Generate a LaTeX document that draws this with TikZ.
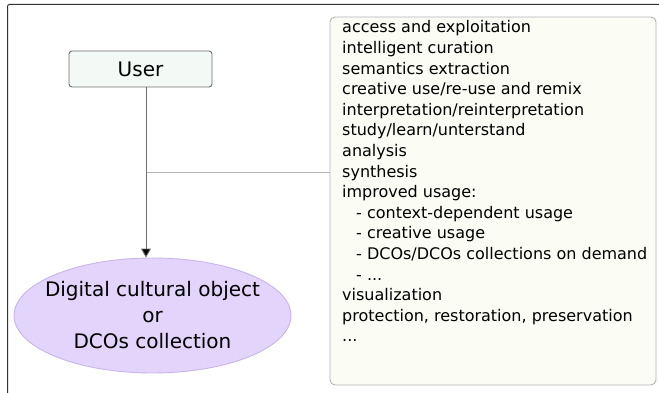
\documentclass[tikz,border=0pt]{standalone}
\usepackage{fontspec}
\setmainfont{DejaVu Sans}
\usetikzlibrary{shapes.geometric,arrows.meta,calc}
\definecolor{userfill}{HTML}{F3F9F5}
\definecolor{userdraw}{HTML}{6E6E6E}
\definecolor{ellfill}{HTML}{E2D4FA}
\definecolor{elldraw}{HTML}{C9B5EA}
\definecolor{listfill}{HTML}{FBFCF4}
\definecolor{listdraw}{HTML}{B4B4B4}
\definecolor{framecol}{HTML}{333333}
\tikzset{
  userbox/.style={draw=userdraw, fill=userfill, rounded corners=3pt, line width=0.9pt,
    minimum width=143pt, minimum height=36pt, inner sep=0pt, font=\fontsize{20}{24}\selectfont},
  dcoell/.style={ellipse, draw=elldraw, fill=ellfill, line width=0.9pt,
    minimum width=277pt, minimum height=115pt, inner xsep=-10pt, inner ysep=0pt, align=center,
    font=\fontsize{20}{26}\selectfont},
  listbox/.style={draw=listdraw, fill=listfill, rounded corners=5pt, line width=0.9pt,
    minimum width=326pt, minimum height=368pt, inner sep=0pt},
  listtext/.style={anchor=north west, inner sep=0pt, align=left,
    font=\fontsize{16}{20.6}\selectfont},
  conn/.style={draw=userdraw, line width=0.9pt},
  connlight/.style={draw=listdraw, line width=0.9pt},
}
\begin{document}
\begin{tikzpicture}[x=1pt,y=-1pt]
\useasboundingbox (0,0) rectangle (659,393);
\clip (0,0) rectangle (659,393);
\draw[framecol, line width=1pt, rounded corners=2pt] (7.5,400) -- (7.5,4.5) -- (670,4.5);
\node[userbox] (user) at (140.5,69) {User};
\node[dcoell] (dco) at (152.5,315.5) {Digital cultural object\\or\\DCOs collection};
\node[listbox] (rbox) at (493,201) {};
\node[listtext] (list) at (342,20.5) {access and exploitation\\
intelligent curation\\
semantics extraction\\
creative use/re-use and remix\\
interpretation/reinterpretation\\
study/learn/unterstand\\
analysis\\
synthesis\\
improved usage:\\
\hspace*{14pt}- context-dependent usage\\
\hspace*{14pt}- creative usage\\
\hspace*{14pt}- DCOs/DCOs collections on demand\\
\hspace*{14pt}- ...\\
visualization\\
protection, restoration, preservation\\
...};
\coordinate (j) at (146,172);
\draw[conn] (user.south -| j) -- (j);
\draw[connlight] (j) -- (j -| rbox.west);
\draw[conn, -{Triangle[width=10pt,length=9pt,fill=black]}] (j) -- (j |- dco.north);
\end{tikzpicture}
\end{document}
